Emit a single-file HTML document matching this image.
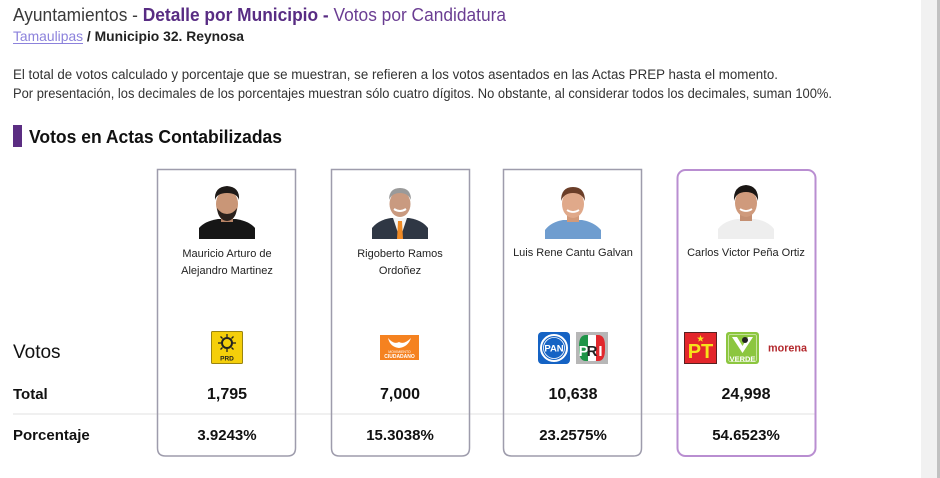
<!DOCTYPE html>
<html>
<head>
<meta charset="utf-8">
<style>
html,body{margin:0;padding:0;background:#fff;}
body{width:940px;height:478px;overflow:hidden;}
svg{display:block;}
text{font-family:"Liberation Sans",Arial,sans-serif;}
</style>
</head>
<body>
<svg width="940" height="478" viewBox="0 0 940 478" xmlns="http://www.w3.org/2000/svg">
  <rect x="0" y="0" width="940" height="478" fill="#fff"/>

  <!-- Title -->
  <text x="13" y="21" font-size="18" textLength="493" lengthAdjust="spacingAndGlyphs"><tspan fill="#3a3a3a">Ayuntamientos - </tspan><tspan fill="#582c83" font-weight="bold">Detalle por Municipio - </tspan><tspan fill="#6a3d92">Votos por Candidatura</tspan></text>

  <!-- Breadcrumb -->
  <text x="13" y="41" font-size="14" textLength="231" lengthAdjust="spacingAndGlyphs"><tspan fill="#8c82dc">Tamaulipas</tspan><tspan fill="#222" font-weight="bold"> / Municipio 32. Reynosa</tspan></text>
  <line x1="13" y1="43.5" x2="83" y2="43.5" stroke="#8c82dc" stroke-width="1"/>

  <!-- Paragraph -->
  <text x="13" y="79" font-size="13.5" fill="#333" textLength="765" lengthAdjust="spacingAndGlyphs">El total de votos calculado y porcentaje que se muestran, se refieren a los votos asentados en las Actas PREP hasta el momento.</text>
  <text x="13" y="98" font-size="13.5" fill="#333" textLength="819" lengthAdjust="spacingAndGlyphs">Por presentación, los decimales de los porcentajes muestran sólo cuatro dígitos. No obstante, al considerar todos los decimales, suman 100%.</text>

  <!-- Section heading -->
  <rect x="13" y="125" width="9" height="22" fill="#5b2d82"/>
  <text x="29" y="143" font-size="18" font-weight="bold" fill="#111" textLength="253" lengthAdjust="spacingAndGlyphs">Votos en Actas Contabilizadas</text>

  <!-- Divider -->
  <line x1="13" y1="414" x2="815" y2="414" stroke="#ececec" stroke-width="1.5"/>

  <!-- Cards -->
  <path d="M157.5 169.5 H295.5 V448 Q295.5 456 287.5 456 H165.5 Q157.5 456 157.5 448 Z" fill="none" stroke="#9e9cac" stroke-width="1.5"/>
  <path d="M331.5 169.5 H469.5 V448 Q469.5 456 461.5 456 H339.5 Q331.5 456 331.5 448 Z" fill="none" stroke="#9e9cac" stroke-width="1.5"/>
  <path d="M503.5 169.5 H641.5 V448 Q641.5 456 633.5 456 H511.5 Q503.5 456 503.5 448 Z" fill="none" stroke="#9e9cac" stroke-width="1.5"/>
  <rect x="677.5" y="170" width="138" height="286" rx="8" ry="8" fill="none" stroke="#b98ed1" stroke-width="2"/>

  <!-- Photo 1 -->
  <g>
    <path d="M199 239 L199 228 Q205 221 218 219 L236 219 Q249 221 255 228 L255 239 Z" fill="#161616"/>
    <rect x="221" y="214" width="12" height="8" fill="#b88466"/>
    <ellipse cx="227" cy="204" rx="11" ry="14" fill="#c99677"/>
    <path d="M215 200 Q214 187 227 186 Q240 187 239 200 Q237 193 227 193 Q217 193 215 200 Z" fill="#1e1a18"/>
    <path d="M217 208 Q218 220 227 221 Q236 220 237 208 Q233 214 227 214 Q221 214 217 208 Z" fill="#2a211c"/>
  </g>

  <!-- Photo 2 -->
  <g>
    <path d="M372 239 L372 228 Q378 220 391 218 L409 218 Q422 220 428 228 L428 239 Z" fill="#2f3744"/>
    <path d="M393 218 L400 239 L407 218 Z" fill="#f4f4f4"/>
    <path d="M398 221 L402 221 L403 239 L397 239 Z" fill="#f08a24"/>
    <ellipse cx="400" cy="204" rx="10.5" ry="13" fill="#c99a80"/>
    <path d="M389 200 Q389 188 400 188 Q411 188 411 200 Q408 193 400 193 Q392 193 389 200 Z" fill="#9a9a9a"/>
    <path d="M394 209 Q400 213 406 209" stroke="#fff" stroke-width="2" fill="none"/>
  </g>

  <!-- Photo 3 -->
  <g>
    <path d="M545 239 L545 230 Q551 222 563 220 L582 220 Q594 222 601 230 L601 239 Z" fill="#6f9dcf"/>
    <rect x="567" y="214" width="12" height="8" fill="#d29a7a"/>
    <ellipse cx="573" cy="204" rx="11" ry="14" fill="#e0a98a"/>
    <path d="M561 201 Q561 187 573 187 Q585 187 585 201 Q582 193 573 193 Q564 193 561 201 Z" fill="#6b3e28"/>
    <path d="M567 210 Q573 214 579 210" stroke="#fff" stroke-width="1.8" fill="none"/>
  </g>

  <!-- Photo 4 -->
  <g>
    <path d="M718 239 L718 229 Q724 221 737 219 L755 219 Q768 221 774 229 L774 239 Z" fill="#eeeeee"/>
    <rect x="740" y="213" width="12" height="8" fill="#c48f72"/>
    <ellipse cx="746" cy="203" rx="11" ry="14" fill="#cf9a7c"/>
    <path d="M734 201 Q733 186 746 185 Q759 186 758 201 Q756 192 746 192 Q736 192 734 201 Z" fill="#1a1614"/>
    <path d="M740 209 Q746 213 752 209" stroke="#fff" stroke-width="1.8" fill="none"/>
  </g>

  <!-- Names -->
  <g font-size="11" fill="#222" text-anchor="middle">
    <text x="227" y="257">Mauricio Arturo de</text>
    <text x="227" y="274">Alejandro Martinez</text>
    <text x="400" y="257">Rigoberto Ramos</text>
    <text x="400" y="274">Ordoñez</text>
    <text x="573" y="256">Luis Rene Cantu Galvan</text>
    <text x="746" y="256">Carlos Victor Peña Ortiz</text>
  </g>

  <!-- Left labels -->
  <text x="13" y="358" font-size="19" fill="#111">Votos</text>
  <text x="13" y="399" font-size="15" font-weight="bold" fill="#111">Total</text>
  <text x="13" y="440" font-size="15" font-weight="bold" fill="#111">Porcentaje</text>

  <!-- PRD logo -->
  <g>
    <rect x="211.5" y="331.5" width="31" height="32" fill="#f5cf0a" stroke="#9a8410" stroke-width="1" rx="1"/>
    <circle cx="227" cy="343" r="5" fill="none" stroke="#222" stroke-width="2"/>
    <g stroke="#222" stroke-width="1.3">
      <line x1="227" y1="334" x2="227" y2="337"/><line x1="227" y1="349" x2="227" y2="352"/>
      <line x1="218" y1="343" x2="221" y2="343"/><line x1="233" y1="343" x2="236" y2="343"/>
      <line x1="220.5" y1="336.5" x2="222.5" y2="338.5"/><line x1="231.5" y1="347.5" x2="233.5" y2="349.5"/>
      <line x1="233.5" y1="336.5" x2="231.5" y2="338.5"/><line x1="222.5" y1="347.5" x2="220.5" y2="349.5"/>
    </g>
    <text x="227" y="360.5" font-size="6.5" font-weight="bold" fill="#222" text-anchor="middle">PRD</text>
  </g>

  <!-- MC logo -->
  <g>
    <rect x="380" y="335" width="39" height="25" fill="#f58220"/>
    <path d="M388 338 Q394 345 399 342 Q404 345 411 338 Q408 347 399 348 Q390 347 388 338 Z" fill="#fff"/>
    <text x="399.5" y="353" font-size="3.5" fill="#fff" text-anchor="middle">MOVIMIENTO</text>
    <text x="399.5" y="358" font-size="5" font-weight="bold" fill="#fff" text-anchor="middle">CIUDADANO</text>
  </g>

  <!-- PAN logo -->
  <g>
    <rect x="538" y="332" width="32" height="32" rx="4" fill="#1563c4"/>
    <circle cx="554" cy="348" r="13" fill="none" stroke="#fff" stroke-width="2"/>
    <circle cx="554" cy="348" r="10.5" fill="none" stroke="#fff" stroke-width="0.8"/>
    <text x="554" y="351.5" font-size="9.5" font-weight="bold" fill="#fff" text-anchor="middle">PAN</text>
  </g>

  <!-- PRI logo -->
  <g>
    <rect x="576" y="332" width="32" height="32" fill="#b7b7b7"/>
    <rect x="579" y="335" width="26" height="26" rx="11" fill="#fff"/>
    <path d="M579 346 Q579 335 586 335 L588 335 L588 361 L586 361 Q579 361 579 350 Z" fill="#1e9447"/>
    <path d="M596 335 L598 335 Q605 335 605 346 L605 350 Q605 361 598 361 L596 361 Z" fill="#e1282d"/>
    <text x="583.5" y="356" font-size="15" font-weight="bold" fill="#fff" text-anchor="middle">P</text>
    <text x="592" y="356" font-size="15" font-weight="bold" fill="#222" text-anchor="middle">R</text>
    <text x="600.5" y="356" font-size="15" font-weight="bold" fill="#fff" text-anchor="middle">I</text>
  </g>

  <!-- PT logo -->
  <g>
    <rect x="684.5" y="332.5" width="32" height="31" fill="#e3262b" stroke="#5a2020" stroke-width="1"/>
    <text x="700.5" y="358" font-size="20" font-weight="bold" fill="#f7e21a" text-anchor="middle">PT</text>
    <path d="M700.5 335 L701.4 337.6 L704 337.6 L702 339.2 L702.7 341.8 L700.5 340.2 L698.3 341.8 L699 339.2 L697 337.6 L699.6 337.6 Z" fill="#f7e21a"/>
  </g>

  <!-- VERDE logo -->
  <g>
    <rect x="726" y="332" width="33" height="32" rx="3" fill="#8cc63f"/>
    <rect x="728.5" y="334.5" width="28" height="27" rx="2" fill="none" stroke="#d8ecb8" stroke-width="0.8"/>
    <path d="M732 337 L742.5 353 L753 337 L748 337 L742.5 346 L737 337 Z" fill="#fff"/>
    <circle cx="745" cy="340" r="3" fill="#222"/>
    <text x="742.5" y="361.5" font-size="7.5" font-weight="bold" fill="#fff" text-anchor="middle">VERDE</text>
  </g>

  <!-- morena -->
  <text x="787.5" y="351.5" font-size="11" font-weight="bold" fill="#b3282d" text-anchor="middle" textLength="39" lengthAdjust="spacingAndGlyphs">morena</text>

  <!-- Totals -->
  <g font-size="16" font-weight="bold" fill="#111" text-anchor="middle">
    <text x="227" y="399">1,795</text>
    <text x="400" y="399">7,000</text>
    <text x="573" y="399">10,638</text>
    <text x="746" y="399">24,998</text>
  </g>
  <!-- Percentages -->
  <g font-size="15" font-weight="bold" fill="#111" text-anchor="middle">
    <text x="227" y="440">3.9243%</text>
    <text x="400" y="440">15.3038%</text>
    <text x="573" y="440">23.2575%</text>
    <text x="746" y="440">54.6523%</text>
  </g>

  <!-- Scrollbar -->
  <rect x="921" y="0" width="16" height="478" fill="#f1f1f1"/>
  <rect x="937" y="0" width="3" height="478" fill="#c1c1c1"/>
</svg>
</body>
</html>
